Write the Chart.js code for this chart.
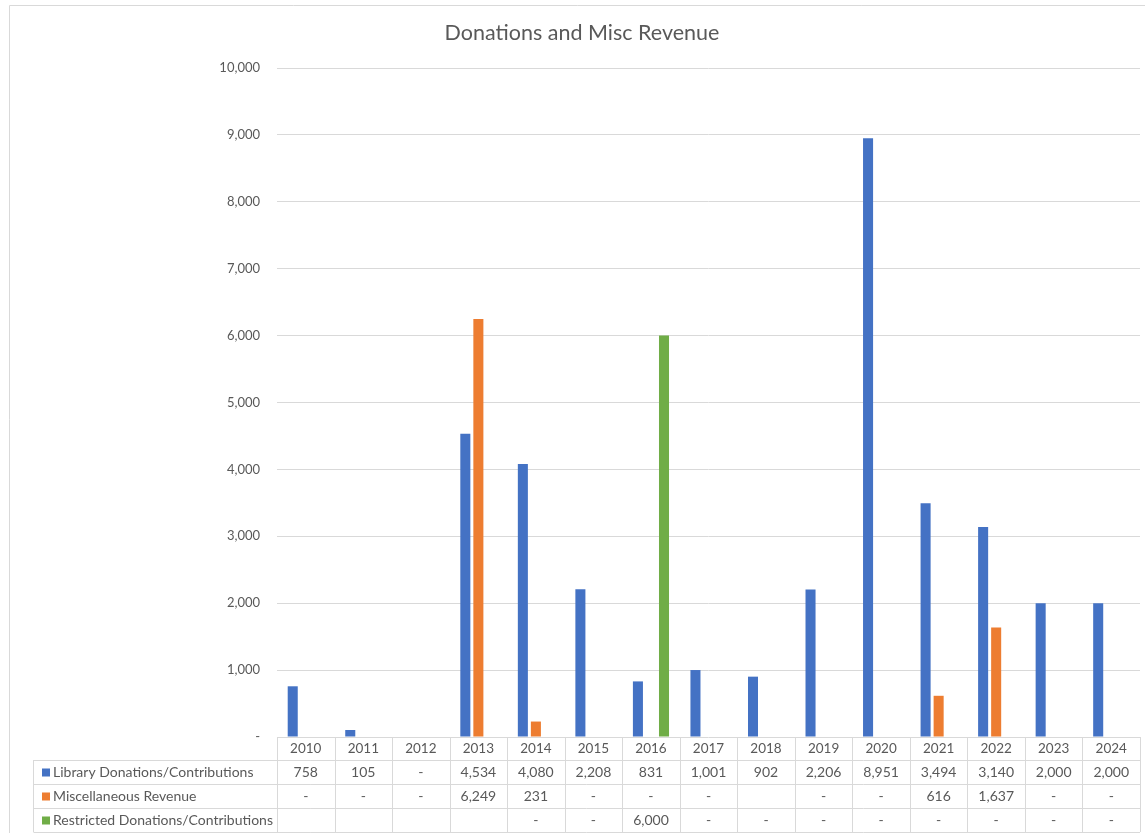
<!DOCTYPE html>
<html>
<head>
<meta charset="utf-8">
<script src="https://cdn.jsdelivr.net/npm/chart.js@4/dist/chart.umd.min.js"></script>
<style>
  html, body { margin: 0; padding: 0; background: #fff; }
  #wrap { position: absolute; left: 0; top: 0; width: 1145px; height: 833px; }
</style>
</head>
<body>
<div id="wrap"><canvas id="donationsChart" width="1145" height="833"></canvas></div>
<script>
// data (null = empty cell, 0 = "-")
const years = ['2010', '2011', '2012', '2013', '2014', '2015', '2016', '2017', '2018', '2019', '2020', '2021', '2022', '2023', '2024'];
const libraryDonations = [758, 105, 0, 4534, 4080, 2208, 831, 1001, 902, 2206, 8951, 3494, 3140, 2000, 2000];
const miscRevenue = [0, 0, 0, 6249, 231, 0, 0, 0, null, 0, 0, 616, 1637, 0, 0];
const restrictedDonations = [null, null, null, null, 0, 0, 6000, 0, 0, 0, 0, 0, 0, 0, 0];
const yTicks = [0, 1000, 2000, 3000, 4000, 5000, 6000, 7000, 8000, 9000, 10000];
const chartTitle = 'Donations and Misc Revenue';

const FONT = 'Lato, "Open Sans", sans-serif';
const TEXT = '#595959';
const LINE = '#d9d9d9';

function fmt(v) {
    if (v === null || v === undefined) return '';
    if (v === 0) return '-';
    return v.toLocaleString('en-US');
}

// frame around the chart (top + left edge as in screenshot) and the title,
// which sits centred on the full chart box (it runs past the right edge)
const framePlugin = {
    id: 'frame',
    beforeDraw(chart) {
        const ctx = chart.ctx;
        ctx.save();
        ctx.strokeStyle = LINE;
        ctx.lineWidth = 1;
        ctx.beginPath();
        ctx.moveTo(9.5, 833);
        ctx.lineTo(9.5, 5.5);
        ctx.lineTo(1145, 5.5);
        ctx.stroke();

        ctx.fillStyle = TEXT;
        ctx.font = '21.5px ' + FONT;
        ctx.textAlign = 'center';
        ctx.textBaseline = 'middle';
        ctx.fillText(chartTitle, 582, 33);
        ctx.restore();
    }
};

// data table under the plot, columns follow the x scale
const tablePlugin = {
    id: 'dataTable',
    afterDraw(chart) {
        const ctx = chart.ctx;
        const a = chart.chartArea;
        const x = chart.scales.x;
        const n = years.length;
        const colW = (a.right - a.left) / n;
        const legendLeft = 33.5;
        const headBottom = a.bottom + 23;
        const rowH = 24;
        const rows = chart.data.datasets;

        ctx.save();
        ctx.strokeStyle = LINE;
        ctx.lineWidth = 1;
        ctx.beginPath();
        // column separators
        for (let i = 0; i <= n; i++) {
            const xx = Math.round(a.left + i * colW) + 0.5;
            ctx.moveTo(xx, a.bottom);
            ctx.lineTo(xx, headBottom + rowH * rows.length);
        }
        // row separators
        for (let r = 0; r <= rows.length; r++) {
            const yy = Math.round(headBottom + r * rowH) + 0.5;
            ctx.moveTo(legendLeft, yy);
            ctx.lineTo(a.right, yy);
        }
        ctx.moveTo(legendLeft, headBottom);
        ctx.lineTo(legendLeft, headBottom + rowH * rows.length);
        ctx.stroke();

        ctx.fillStyle = TEXT;
        ctx.font = '13.5px ' + FONT;
        ctx.textAlign = 'center';
        ctx.textBaseline = 'middle';
        years.forEach((yr, i) => {
            ctx.fillText(yr, x.getPixelForValue(i), a.bottom + 12);
        });

        ctx.font = '14px ' + FONT;
        rows.forEach((ds, r) => {
            const cy = headBottom + r * rowH + rowH / 2 + 0.5;
            ctx.fillStyle = ds.backgroundColor;
            ctx.fillRect(42, cy - 4, 8, 8);
            ctx.fillStyle = TEXT;
            ctx.textAlign = 'left';
            ctx.fillText(ds.label, 53, cy);
            ctx.textAlign = 'center';
            ds.data.forEach((v, i) => {
                ctx.fillText(fmt(v), x.getPixelForValue(i), cy);
            });
        });
        ctx.restore();
    }
};

const ctx = document.getElementById('donationsChart').getContext('2d');
new Chart(ctx, {
    type: 'bar',
    data: {
        labels: years,
        datasets: [
            { label: 'Library Donations/Contributions', data: libraryDonations, backgroundColor: '#4472C4' },
            { label: 'Miscellaneous Revenue', data: miscRevenue, backgroundColor: '#ED7D31' },
            { label: 'Restricted Donations/Contributions', data: restrictedDonations, backgroundColor: '#70AD47' }
        ]
    },
    options: {
        responsive: false,
        animation: false,
        layout: { padding: { left: 0, right: 5, top: 68, bottom: 96 } },
        datasets: { bar: { categoryPercentage: 0.68, barPercentage: 0.77 } },
        plugins: {
            legend: { display: false },
            tooltip: { enabled: false },
            title: { display: false }
        },
        scales: {
            x: { display: false },
            y: {
                min: 0,
                max: 10000,
                afterFit(scale) { scale.width = 277; },
                afterBuildTicks(scale) { scale.ticks = yTicks.map(v => ({ value: v })); },
                border: { display: false },
                grid: { color: LINE, drawTicks: false },
                ticks: {
                    padding: 17,
                    color: TEXT,
                    font: { family: FONT, size: 13 },
                    callback: v => fmt(v)
                }
            }
        }
    },
    plugins: [framePlugin, tablePlugin]
});
</script>
</body>
</html>
